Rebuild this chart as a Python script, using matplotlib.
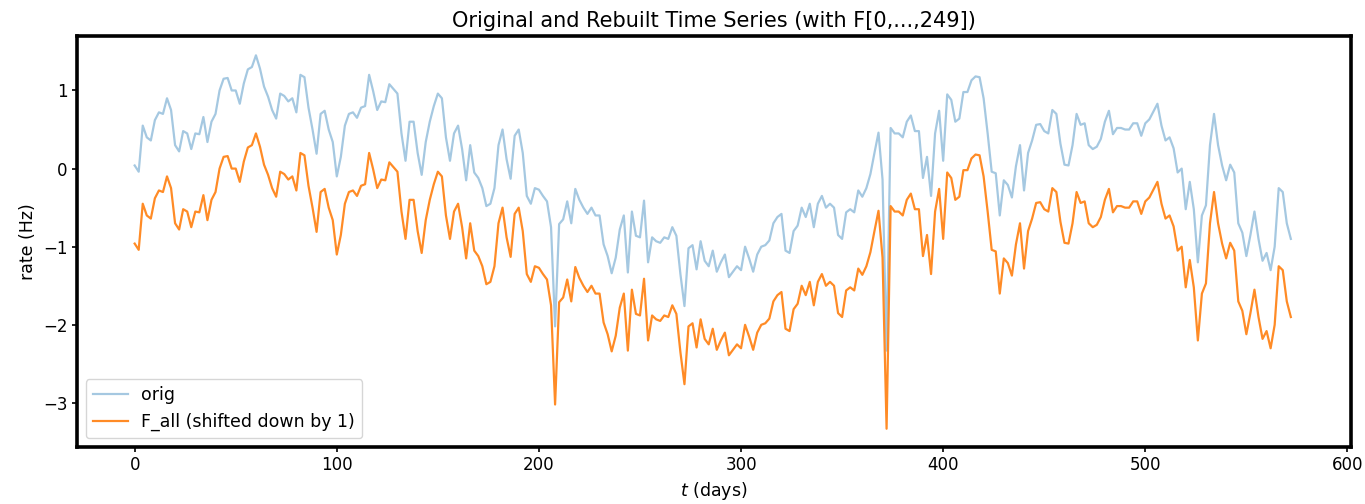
import numpy as np
import matplotlib
matplotlib.use('Agg')
import matplotlib.pyplot as plt

# Daily rate series, sampled every 2 days (t = 0 .. 572)
T_STEP = 2
orig = [
    0.04, -0.04, 0.55, 0.40, 0.36, 0.62, 0.72, 0.70, 0.90, 0.75,
    0.30, 0.22, 0.48, 0.45, 0.25, 0.45, 0.44, 0.66, 0.34, 0.60,
    0.70, 1.00, 1.15, 1.16, 1.00, 1.00, 0.83, 1.09, 1.27, 1.30,
    1.45, 1.28, 1.05, 0.92, 0.75, 0.64, 0.96, 0.93, 0.86, 0.90,
    0.72, 1.20, 1.17, 0.78, 0.50, 0.19, 0.70, 0.74, 0.50, 0.34,
    -0.10, 0.15, 0.55, 0.70, 0.72, 0.65, 0.78, 0.80, 1.20, 0.99,
    0.75, 0.86, 0.85, 1.08, 1.02, 0.96, 0.45, 0.10, 0.60, 0.60,
    0.20, -0.08, 0.34, 0.60, 0.80, 0.96, 0.90, 0.40, 0.10, 0.45,
    0.55, 0.25, -0.15, 0.30, -0.05, -0.12, -0.25, -0.48, -0.45, -0.25,
    0.30, 0.50, 0.12, -0.13, 0.42, 0.50, 0.20, -0.35, -0.45, -0.25,
    -0.27, -0.35, -0.42, -0.75, -2.02, -0.71, -0.65, -0.42, -0.70, -0.26,
    -0.40, -0.50, -0.58, -0.50, -0.60, -0.60, -0.97, -1.12, -1.34, -1.14,
    -0.78, -0.60, -1.33, -0.55, -0.86, -0.88, -0.41, -1.20, -0.88, -0.93,
    -0.95, -0.88, -0.90, -0.75, -0.86, -1.35, -1.76, -1.02, -0.98, -1.29,
    -0.93, -1.18, -1.25, -1.05, -1.32, -1.20, -1.10, -1.39, -1.32, -1.25,
    -1.30, -1.00, -1.15, -1.32, -1.10, -1.00, -0.98, -0.92, -0.70, -0.62,
    -0.58, -1.05, -1.08, -0.80, -0.73, -0.50, -0.62, -0.45, -0.75, -0.45,
    -0.35, -0.50, -0.45, -0.50, -0.85, -0.90, -0.56, -0.52, -0.56, -0.28,
    -0.36, -0.25, -0.07, 0.20, 0.46, -0.14, -2.33, 0.52, 0.45, 0.45,
    0.40, 0.60, 0.68, 0.48, 0.48, -0.12, 0.15, -0.35, 0.45, 0.74,
    0.10, 0.95, 0.88, 0.60, 0.64, 0.98, 0.98, 1.13, 1.18, 1.17,
    0.90, 0.45, -0.04, -0.06, -0.60, -0.15, -0.21, -0.37, 0.03, 0.30,
    -0.28, 0.20, 0.36, 0.56, 0.57, 0.48, 0.45, 0.75, 0.70, 0.32,
    0.05, 0.04, 0.30, 0.70, 0.56, 0.58, 0.30, 0.25, 0.28, 0.38,
    0.60, 0.74, 0.44, 0.52, 0.52, 0.50, 0.50, 0.58, 0.58, 0.42,
    0.58, 0.63, 0.73, 0.83, 0.55, 0.36, 0.40, 0.26, -0.05, 0.00,
    -0.52, -0.17, -0.52, -1.20, -0.60, -0.47, 0.30, 0.70, 0.30, 0.04,
    -0.15, 0.05, -0.05, -0.70, -0.82, -1.12, -0.85, -0.55, -0.90, -1.18,
    -1.08, -1.30, -1.00, -0.25, -0.30, -0.70, -0.90,
]
SHIFT = 1  # rebuilt series is drawn shifted down by this much

t = np.arange(len(orig)) * T_STEP
orig = np.array(orig)
# rebuilding with all 250 coefficients gives back the original series
F_all = orig.copy()

fig, ax = plt.subplots(figsize=(13.65, 5.04), dpi=100)
fig.subplots_adjust(left=0.0566, right=0.9895, top=0.929, bottom=0.1137)

ax.plot(t, orig, color='C0', alpha=0.4, linewidth=1.6, label='orig')
ax.plot(t, F_all - SHIFT, color='C1', alpha=0.9, linewidth=1.6,
        label=f'F_all (shifted down by {SHIFT})')

ax.set_xlim(-28.4, 601.6)
ax.set_ylim(-3.56, 1.70)
ax.set_xticks([0, 100, 200, 300, 400, 500, 600])
ax.set_yticks([-3, -2, -1, 0, 1])
ax.tick_params(labelsize=12, width=1.2)

ax.set_title('Original and Rebuilt Time Series (with F[0,...,249])', fontsize=15)
ax.set_xlabel('$t$ (days)', fontsize=12.5)
ax.set_ylabel('rate (Hz)', fontsize=12.5)
ax.legend(loc='lower left', fontsize=12.5)

for spine in ax.spines.values():
    spine.set_linewidth(2.6)

fig.savefig('out.png', dpi=100)
